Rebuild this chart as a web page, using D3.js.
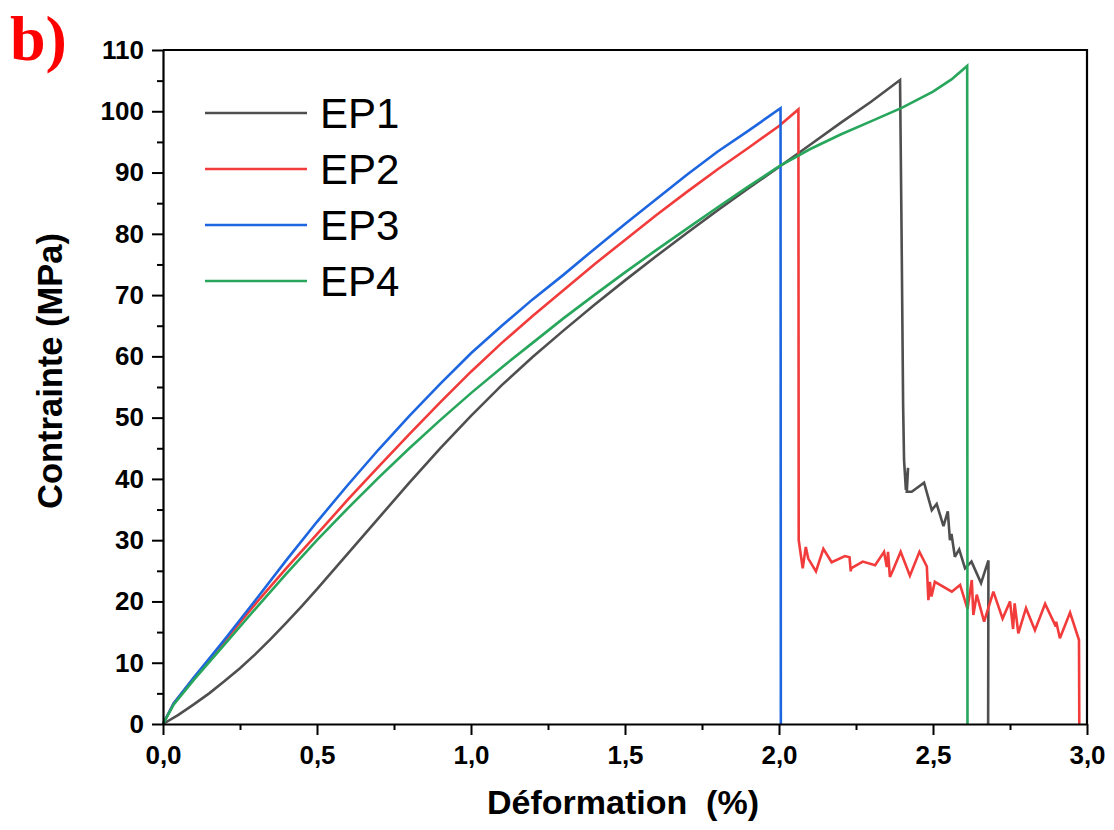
<!DOCTYPE html>
<html>
<head>
<meta charset="utf-8">
<script src="https://cdn.jsdelivr.net/npm/d3@7"></script>
<style>
  html, body { margin: 0; padding: 0; background: #fff; }
  svg { display: block; }
</style>
</head>
<body>
<svg id="chart" width="1114" height="830"></svg>
<script>
// Tensile curves: [strain (%), stress (MPa)]
const ep1 = [
  [0,0],[0.05,1.5],[0.1,3.2],[0.15,5.0],[0.2,7.0],[0.25,9.1],[0.3,11.4],[0.35,13.9],
  [0.4,16.5],[0.45,19.2],[0.5,22.0],[0.6,27.8],
  [0.7,33.6],[0.8,39.4],[0.9,45.0],[1.0,50.3],[1.1,55.3],[1.2,59.9],[1.3,64.2],
  [1.4,68.4],[1.5,72.4],[1.6,76.3],[1.7,80.1],[1.8,83.8],[1.9,87.4],[2.0,90.9],
  [2.1,94.5],[2.2,98.1],[2.3,101.6],[2.393,105.1],
  [2.398,80],[2.403,52],[2.406,43.1],[2.412,38.2],[2.419,41.8],[2.415,37.9],
  [2.431,37.9],[2.471,39.4],[2.496,34.9],[2.512,35.9],[2.534,32.3],[2.548,34.7],
  [2.555,30.0],[2.56,31.0],[2.571,27.3],[2.585,28.5],[2.604,25.4],[2.625,26.5],
  [2.656,23.0],[2.680,26.7],[2.679,0]
];
const ep2 = [
  [0,0],[0.035,3.4],[0.1,7.5],[0.2,13.5],[0.3,19.6],[0.4,25.4],[0.5,31.0],[0.6,36.6],
  [0.7,42.0],[0.8,47.3],[0.9,52.5],[1.0,57.5],[1.1,62.2],[1.2,66.6],[1.3,70.8],
  [1.4,75.0],[1.5,79.0],[1.6,83.0],[1.7,86.8],[1.8,90.5],[1.9,94.0],[2.0,97.6],
  [2.063,100.3],[2.064,30.0],[2.077,25.4],[2.087,28.9],[2.095,27.0],[2.12,24.9],
  [2.144,28.6],[2.171,26.4],[2.214,27.4],[2.229,27.2],[2.233,24.9],[2.234,25.4],
  [2.272,26.5],[2.312,25.9],[2.341,28.1],[2.35,25.6],[2.354,28.1],[2.36,24.0],
  [2.37,25.1],[2.395,28.1],[2.425,24.2],[2.456,28.1],[2.48,25.7],[2.485,20.2],
  [2.49,23.2],[2.495,20.8],[2.506,23.2],[2.561,21.6],[2.588,22.7],[2.612,18.8],
  [2.626,23.5],[2.631,17.8],[2.642,21.1],[2.666,16.7],[2.696,21.6],[2.726,17.2],
  [2.75,20.0],[2.76,15.5],[2.765,19.7],[2.777,14.8],[2.802,18.9],[2.831,15.3],
  [2.864,19.6],[2.899,15.9],[2.90,16.7],[2.912,14.0],[2.945,18.2],[2.974,13.7],
  [2.975,0]
];
const ep3 = [
  [0,0],[0.035,3.4],[0.1,7.6],[0.2,13.8],[0.3,20.2],[0.4,26.7],[0.5,33.0],[0.6,39.0],
  [0.7,44.8],[0.8,50.3],[0.9,55.5],[1.0,60.5],[1.1,65.0],[1.2,69.3],[1.3,73.3],
  [1.4,77.5],[1.5,81.6],[1.6,85.6],[1.7,89.6],[1.8,93.4],[1.9,96.8],[2.005,100.5],
  [2.006,0]
];
const ep4 = [
  [0,0],[0.035,3.2],[0.1,7.2],[0.2,13.0],[0.3,18.8],[0.4,24.5],[0.5,30.0],[0.6,35.2],
  [0.7,40.2],[0.8,45.0],[0.9,49.6],[1.0,54.0],[1.1,58.2],[1.2,62.2],[1.3,66.2],
  [1.4,70.0],[1.5,73.7],[1.6,77.3],[1.7,80.8],[1.8,84.3],[1.9,87.7],[2.0,91.0],
  [2.1,93.8],[2.2,96.2],[2.3,98.4],[2.4,100.6],[2.5,103.2],[2.56,105.2],
  [2.611,107.4],[2.612,0]
];

const seriesNames = ["EP1", "EP2", "EP3", "EP4"];
const seriesColors = ["#4f4f4f", "#f23b3b", "#1d66e0", "#27a65c"];
const seriesData = [ep1, ep2, ep3, ep4];

const xTicks = [0, 0.5, 1.0, 1.5, 2.0, 2.5, 3.0];
const xMinorTicks = [0.25, 0.75, 1.25, 1.75, 2.25, 2.75];
const yTicks = [0, 10, 20, 30, 40, 50, 60, 70, 80, 90, 100, 110];
const yMinorTicks = [5, 15, 25, 35, 45, 55, 65, 75, 85, 95, 105];

const svg = d3.select("#chart");
const plotLeft = 163, plotRight = 1087, plotTop = 50, plotBottom = 724;

const x = d3.scaleLinear().domain([0, 3]).range([plotLeft, plotRight]);
const y = d3.scaleLinear().domain([0, 110]).range([plotBottom, plotTop]);

const fmt = d => d3.format(".1f")(d).replace(".", ",");

// curves
const line = d3.line().x(d => x(d[0])).y(d => y(d[1]));
const plot = svg.append("g");
seriesData.forEach((data, i) => {
  plot.append("path")
    .datum(data)
    .attr("d", line)
    .attr("fill", "none")
    .attr("stroke", seriesColors[i])
    .attr("stroke-width", 2.6)
    .attr("stroke-linejoin", "miter")
    .attr("stroke-miterlimit", 3);
});

// frame (top and right edges)
svg.append("path")
  .attr("d", `M${plotLeft},${plotTop}H${plotRight}V${plotBottom}`)
  .attr("fill", "none").attr("stroke", "#000").attr("stroke-width", 2.2);

// x axis
svg.append("g").attr("transform", `translate(0,${plotBottom})`)
  .call(d3.axisBottom(x).tickValues(xTicks).tickFormat(fmt).tickSize(11).tickSizeOuter(0).tickPadding(11));
svg.append("g").attr("transform", `translate(0,${plotBottom})`)
  .call(d3.axisBottom(x).tickValues(xMinorTicks).tickFormat("").tickSize(6).tickSizeOuter(0))
  .call(g => g.select(".domain").remove());

// y axis
svg.append("g").attr("transform", `translate(${plotLeft},0)`)
  .call(d3.axisLeft(y).tickValues(yTicks).tickFormat(d3.format("d")).tickSize(11).tickSizeOuter(0).tickPadding(8));
svg.append("g").attr("transform", `translate(${plotLeft},0)`)
  .call(d3.axisLeft(y).tickValues(yMinorTicks).tickFormat("").tickSize(6).tickSizeOuter(0))
  .call(g => g.select(".domain").remove());

svg.selectAll(".domain").attr("stroke", "#000").attr("stroke-width", 2.2);
svg.selectAll(".tick line").attr("stroke", "#000").attr("stroke-width", 2);
svg.selectAll(".tick text")
  .attr("font-family", "'Liberation Sans', Arial, sans-serif")
  .attr("font-weight", "bold")
  .attr("font-size", 26)
  .attr("fill", "#000");

// axis titles
svg.append("text")
  .attr("x", 623).attr("y", 814)
  .attr("text-anchor", "middle")
  .attr("font-family", "'Liberation Sans', Arial, sans-serif")
  .attr("font-weight", "bold").attr("font-size", 34)
  .style("white-space", "pre")
  .text("Déformation  (%)");

svg.append("text")
  .attr("transform", "translate(62,371) rotate(-90)")
  .attr("text-anchor", "middle")
  .attr("font-family", "'Liberation Sans', Arial, sans-serif")
  .attr("font-weight", "bold").attr("font-size", 34.5)
  .text("Contrainte (MPa)");

// panel label
svg.append("text")
  .attr("x", 10).attr("y", 60)
  .attr("font-family", "'Liberation Serif', 'Times New Roman', serif")
  .attr("font-weight", "bold").attr("font-size", 64)
  .attr("fill", "#ff0000")
  .text("b)");

// legend
const legend = svg.append("g");
const legendY = d3.scaleLinear().domain([0, 3]).range([113, 281]);
seriesNames.forEach((name, i) => {
  legend.append("line")
    .attr("x1", 205).attr("x2", 307)
    .attr("y1", legendY(i)).attr("y2", legendY(i))
    .attr("stroke", seriesColors[i]).attr("stroke-width", 2.6);
  legend.append("text")
    .attr("x", 320).attr("y", legendY(i) + 15)
    .attr("font-family", "'Liberation Sans', Arial, sans-serif")
    .attr("font-size", 42)
    .attr("fill", "#000")
    .text(name);
});
</script>
</body>
</html>
